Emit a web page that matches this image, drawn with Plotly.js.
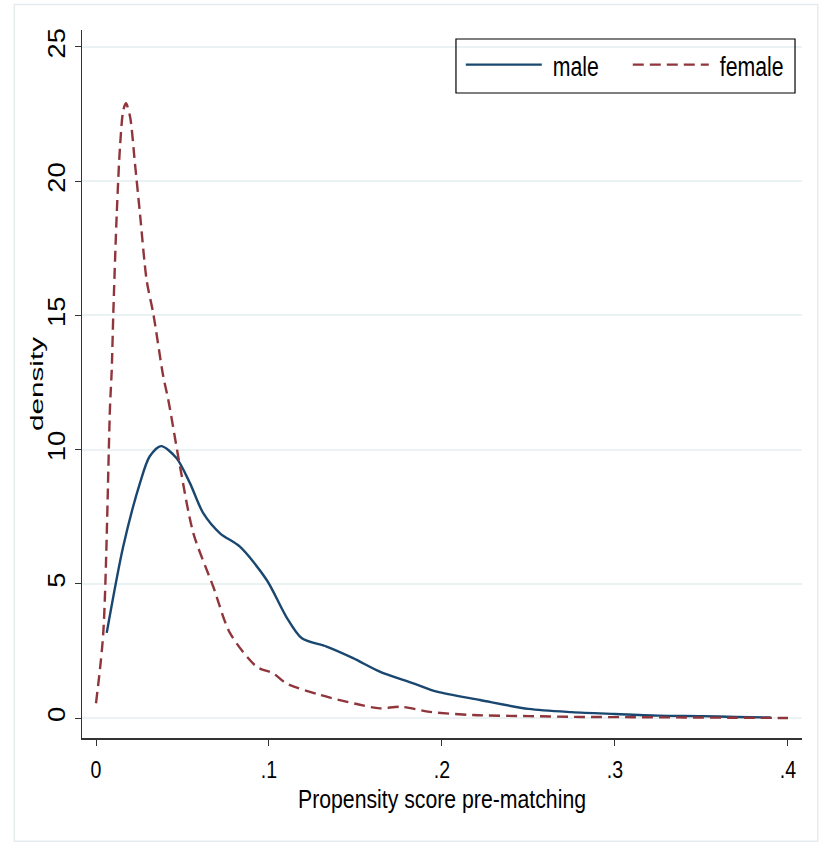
<!DOCTYPE html>
<html>
<head>
<meta charset="utf-8">
<script src="https://cdn.plot.ly/plotly-3.0.1.min.js"></script>
<style>html,body{margin:0;padding:0;background:#fff;}#chart{width:820px;height:852px;}</style>
</head>
<body>
<div id="chart"></div>
<script>
// Male kernel density (solid)
const maleX = [0.0062, 0.0157, 0.0254, 0.031, 0.0376, 0.0466, 0.0543, 0.062, 0.0717, 0.0832, 0.0987, 0.110, 0.119, 0.1333, 0.1486, 0.164, 0.183, 0.197, 0.222, 0.25, 0.275, 0.30, 0.325, 0.35, 0.37, 0.39];
const maleY = [3.17, 6.38, 8.75, 9.74, 10.13, 9.68, 8.75, 7.63, 6.88, 6.38, 5.14, 3.77, 2.97, 2.66, 2.23, 1.73, 1.30, 0.98, 0.67, 0.34, 0.22, 0.15, 0.09, 0.07, 0.04, 0.02];
// Female kernel density (dashed)
const femaleX = [0.0, 0.0042, 0.0081, 0.0091, 0.010, 0.012, 0.0139, 0.0158, 0.0173, 0.0197, 0.0225, 0.0254, 0.0293, 0.0331, 0.0389, 0.0418, 0.0486, 0.0563, 0.0678, 0.0775, 0.0929, 0.1025, 0.110, 0.1295, 0.1507, 0.164, 0.176, 0.193, 0.218, 0.25, 0.28, 0.31, 0.34, 0.37, 0.40];
const femaleY = [0.55, 3.16, 11.6, 12.97, 15.07, 18.8, 21.3, 22.65, 22.9, 22.4, 20.67, 18.8, 16.3, 15.07, 12.72, 11.85, 9.36, 6.88, 4.89, 3.16, 1.91, 1.66, 1.29, 0.86, 0.52, 0.36, 0.42, 0.23, 0.11, 0.07, 0.04, 0.03, 0.02, 0.01, 0.0];

const xTickVals = [0, 0.1, 0.2, 0.3, 0.4];
const xTickText = ["0", ".1", ".2", ".3", ".4"];
const yTickVals = [0, 5, 10, 15, 20, 25];
const yTickText = ["0", "5", "10", "15", "20", "25"];

const traces = [
  {x: maleX, y: maleY, name: "male", type: "scatter", mode: "lines",
   line: {color: "#1a476f", width: 2.4, shape: "spline", smoothing: 0.8}},
  {x: femaleX, y: femaleY, name: "female", type: "scatter", mode: "lines",
   line: {color: "#90353b", width: 2.4, dash: "11px,6px", shape: "spline", smoothing: 0.8}}
];

const sans = "Liberation Sans, Arial, sans-serif";
const layout = {
  width: 820, height: 852,
  margin: {l: 82, r: 18, t: 30, b: 114},
  paper_bgcolor: "#ffffff", plot_bgcolor: "#ffffff",
  showlegend: true,
  legend: {orientation: "h", x: 0.99, xanchor: "right", y: 0.986, yanchor: "top",
           borderwidth: 0, bgcolor: "rgba(0,0,0,0)",
           font: {family: sans, size: 28, color: "#000"}, itemwidth: 76, entrywidth: 76,
           traceorder: "normal"},
  xaxis: {range: [-0.00809, 0.4081], tickvals: xTickVals, ticktext: xTickText,
          showgrid: false, zeroline: false, showline: true, linecolor: "#333", linewidth: 1.5,
          ticks: "outside", ticklen: 6, tickcolor: "#333", ticklabelstandoff: 5,
          tickfont: {family: sans, size: 23, color: "#000"},
          title: {text: "Propensity score pre-matching", font: {family: sans, size: 25, color: "#000"}, standoff: 8}},
  yaxis: {range: [-0.745, 25.63], tickvals: yTickVals, ticktext: yTickText, tickangle: -90,
          showgrid: true, gridcolor: "#eaf2f3", gridwidth: 2, zeroline: false,
          showline: true, linecolor: "#333", linewidth: 1.5,
          ticks: "outside", ticklen: 6, tickcolor: "#333",
          tickfont: {family: sans, size: 24, color: "#000"},
          title: {text: "density", font: {family: sans, size: 18, color: "#000"}, standoff: 10}},
  shapes: [
    {type: "rect", xref: "paper", yref: "paper", x0: -0.094, x1: 1.022, y0: -0.146, y1: 1.036,
     line: {color: "#e6ecee", width: 1.5}, fillcolor: "rgba(0,0,0,0)", layer: "below"},
    {type: "rect", xref: "paper", yref: "paper", x0: 0.5194, x1: 0.9903, y0: 0.9110, y1: 0.9873,
     line: {color: "#000", width: 1.2}, fillcolor: "rgba(0,0,0,0)", layer: "above"}
  ]
};

function squeeze(sel, kx, ky, anchorLeft, dx, dy) {
  document.querySelectorAll(sel).forEach(function (t) {
    const bb = t.getBBox();
    const cx = anchorLeft ? bb.x : bb.x + bb.width / 2;
    const cy = bb.y + bb.height / 2;
    const ex = t.getAttribute("transform") || "";
    const pre = (dx || dy) ? "translate(" + (dx || 0) + "," + (dy || 0) + ") " : "";
    t.setAttribute("transform", pre + ex + " translate(" + cx + "," + cy + ") scale(" + kx + "," + ky + ") translate(" + (-cx) + "," + (-cy) + ")");
  });
}

Plotly.newPlot("chart", traces, layout, {displayModeBar: false, staticPlot: true}).then(function () {
  squeeze("#chart .xtick text", 0.85, 1, false);
  squeeze("#chart .g-xtitle text", 0.85, 1, false);
  squeeze("#chart .ytick text", 1.14, 1, false);
  squeeze("#chart .g-ytitle text", 1.65, 1, false, 16, 0);
  squeeze("#chart .legendtext", 0.76, 1, true, 6, 0);
});
</script>
</body>
</html>
